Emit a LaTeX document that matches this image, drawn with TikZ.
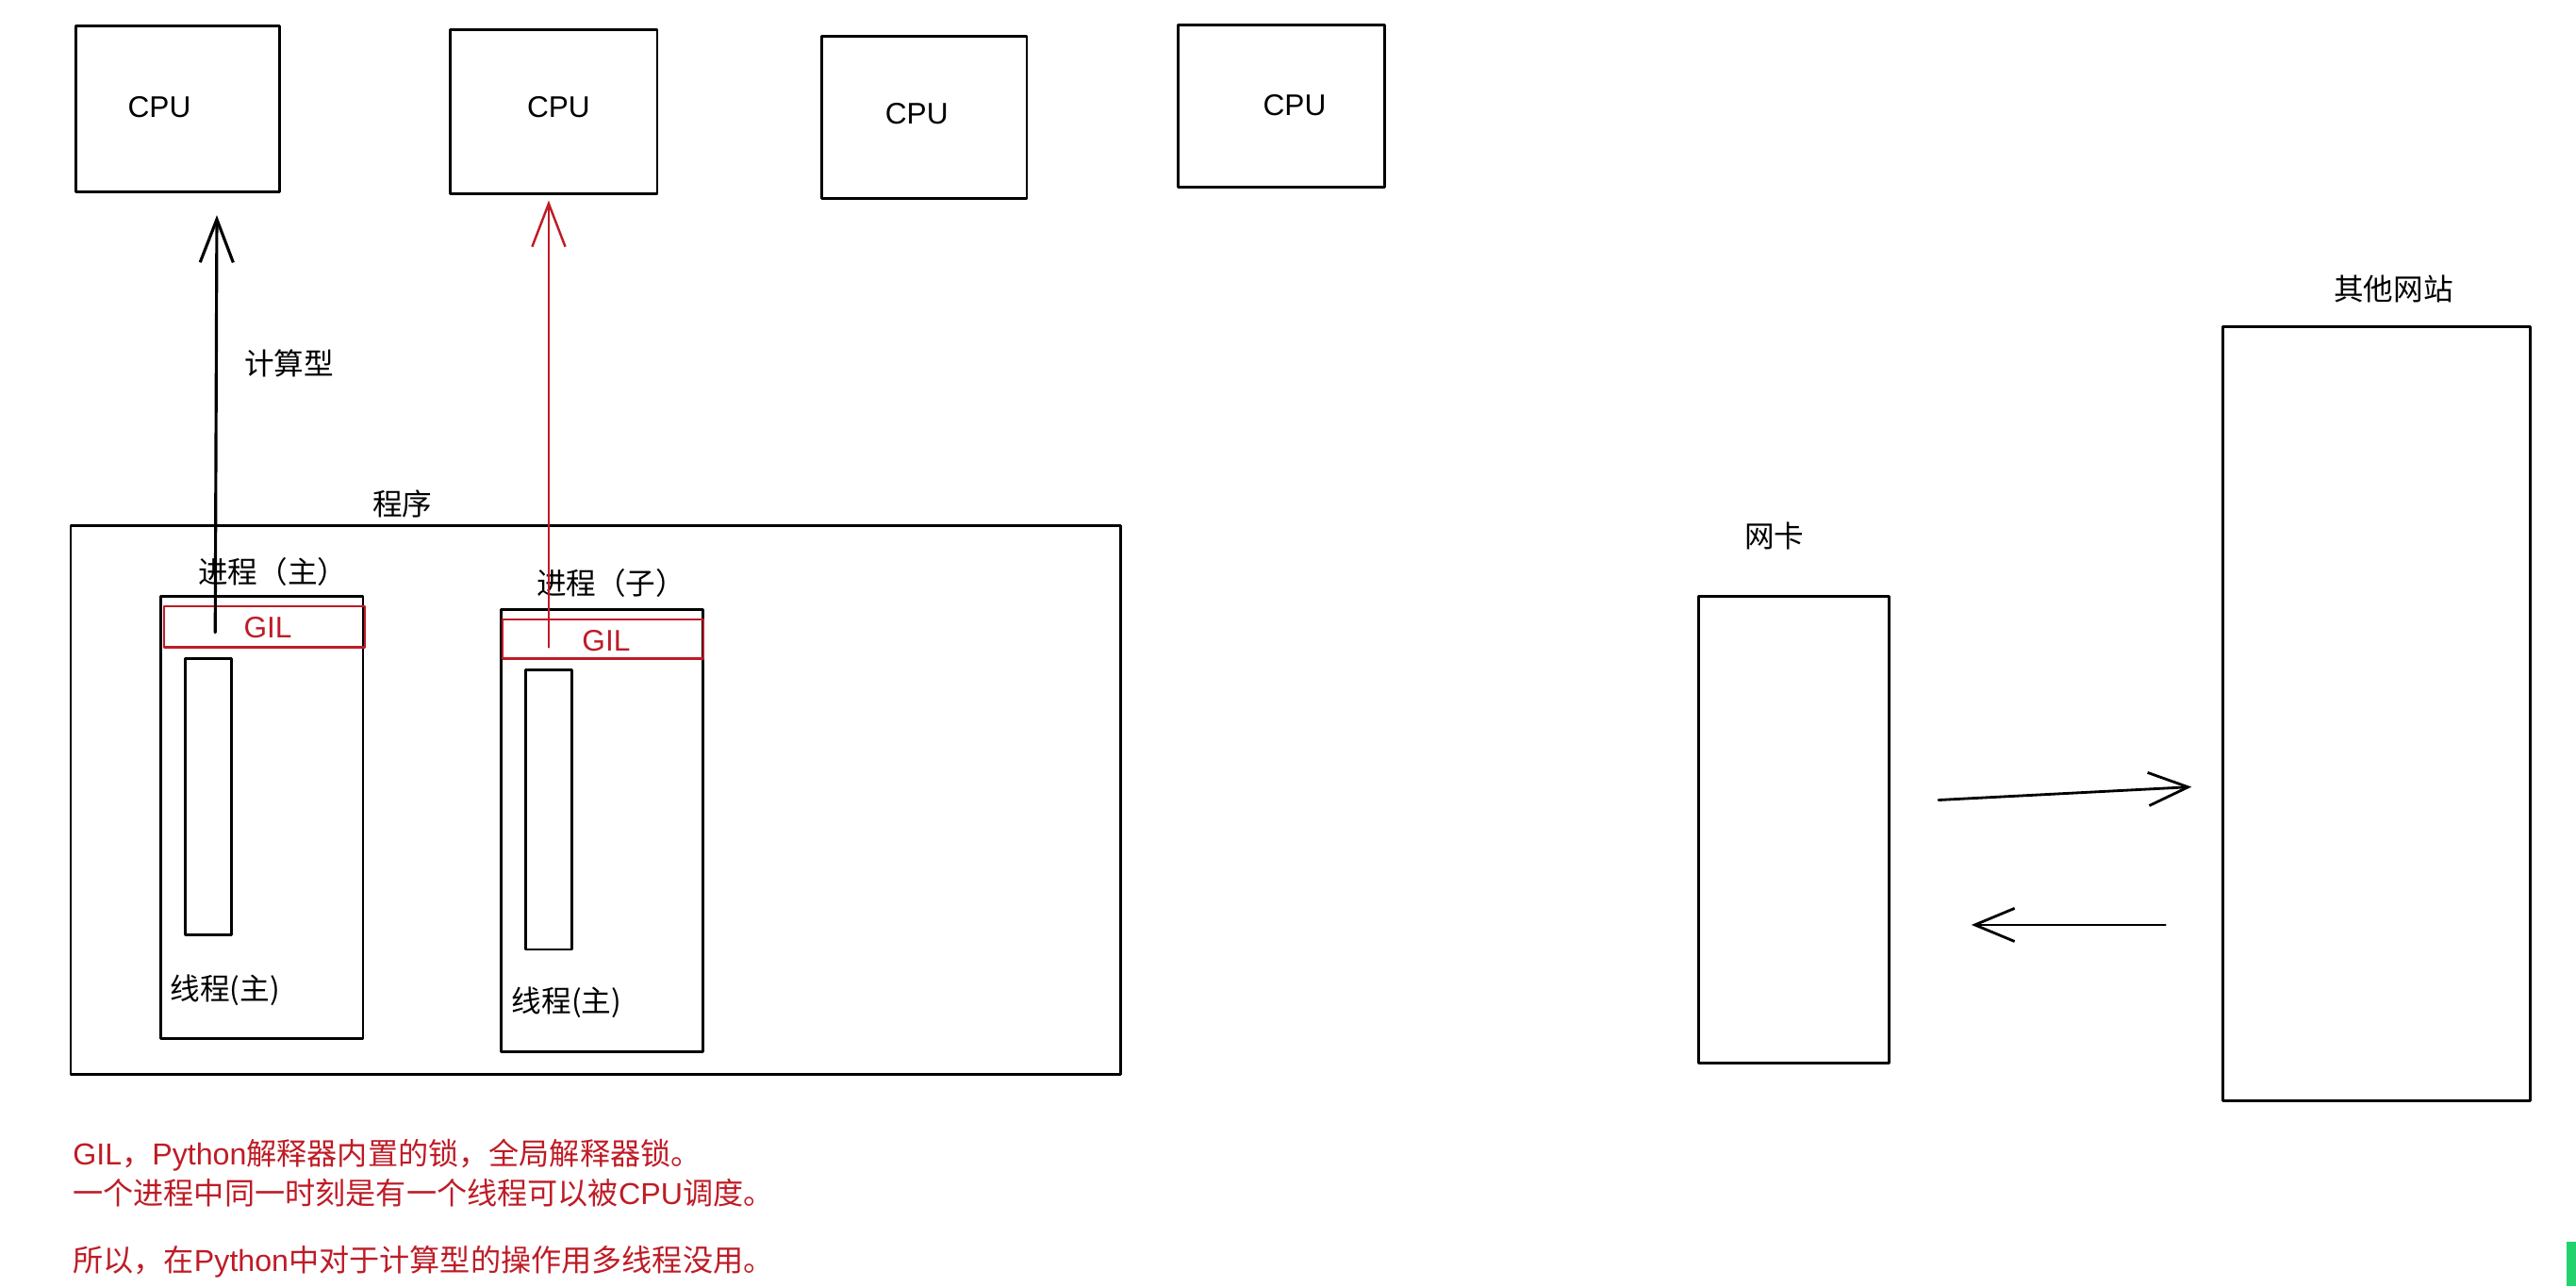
\documentclass[tikz,border=0pt]{standalone}
\usepackage{fontspec}
\setmainfont{Liberation Sans}
\newfontfamily\cjk{Noto Sans CJK SC}
\usetikzlibrary{arrows.meta,fit,positioning}
\definecolor{lockred}{RGB}{190,28,38}
\definecolor{markgreen}{RGB}{34,210,110}
\tikzset{
  every node/.style={font=\fontsize{9}{11}\selectfont},
  box/.style={draw=black, line width=0.8pt, inner sep=0pt},
  gil box/.style={draw=lockred, line width=0.7pt, inner sep=0pt},
  lock text/.style={text=lockred},
  note/.style={text=lockred, anchor=west, inner sep=0pt, font=\fontsize{9.15}{11}\selectfont},
  call/.style={line width=0.9pt, -{Straight Barb[length=13pt, width=10pt]}},
  flow/.style={line width=0.8pt, -{Straight Barb[length=12pt, width=10pt]}}
}

\begin{document}
\begin{tikzpicture}[x=0.017423cm, y=-0.017423cm, line cap=round, line join=round]
  \useasboundingbox (0,0) rectangle (1568,783);

  % cpus
  \node[box, fit={(46,16) (170,117)}] (cpu1) {};
  \node[box, fit={(274,18) (400,118)}] (cpu2) {};
  \node[box, fit={(500,22) (625,121)}] (cpu3) {};
  \node[box, fit={(717,15) (843,114)}] (cpu4) {};
  \node (cpu1txt) at (97,65) {CPU};
  \node (cpu2txt) at (340,65) {CPU};
  \node (cpu3txt) at (558,69) {CPU};
  \node (cpu4txt) at (788,64) {CPU};

  % program with two processes
  \node[box, fit={(43,320) (682,654)}] (prog) {};
  \node (progtxt) at (245,307) {\cjk 程序};

  \node[box, fit={(98,363) (221,632)}] (pmain) {};
  \node[gil box, fit={(100,369) (222,394)}] (gilmain) {};
  \node[lock text] (gilmaintxt) at (163,382) {GIL};
  \node[box, fit={(113,401) (141,569)}] (tmain) {};
  \node (pmaintxt) at (166,348) {\cjk 进程（主）};
  \node (tmaintxt) at (137,603) {\cjk 线程(主)};

  \node[box, fit={(305,371) (428,640)}] (pchild) {};
  \node[gil box, fit={(306,377) (428,401)}] (gilchild) {};
  \node[lock text] (gilchildtxt) at (369,390) {GIL};
  \node[box, fit={(320,408) (348,578)}] (tchild) {};
  \node (pchildtxt) at (372,355) {\cjk 进程（子）};
  \node (tchildtxt) at (345,610) {\cjk 线程(主)};

  % threads asking for a cpu
  \coordinate (s1) at (131,385);
  \coordinate (e1) at (132,131);
  \coordinate (s2) at (334,394);
  \coordinate (e2) at (334,122);
  \draw[call] (s1) -- (e1);
  \draw[call, lockred, line width=0.7pt] (s2) -- (e2);
  \node (calctxt) at (176,221) {\cjk 计算型};

  % network side
  \node[box, fit={(1034,363) (1150,647)}] (nic) {};
  \node (nictxt) at (1080,326) {\cjk 网卡};
  \node[box, fit={(1353,199) (1540,670)}] (site) {};
  \node (sitetxt) at (1457,176) {\cjk 其他网站};
  \coordinate (r1) at (1180,487);
  \coordinate (r2) at (1334,479);
  \coordinate (l1) at (1318,563);
  \coordinate (l2) at (1200,563);
  \draw[flow] (r1) -- (r2);
  \draw[flow] (l1) -- (l2);

  % notes
  \node[note] (note1) at (44,703) {GIL{\cjk ，}Python{\cjk 解释器内置的锁，全局解释器锁。}};
  \node[note] (note2) at (44,726) {{\cjk 一个进程中同一时刻是有一个线程可以被}CPU{\cjk 调度。}};
  \node[note] (note3) at (44,768) {{\cjk 所以，在}Python{\cjk 中对于计算型的操作用多线程没用。}};

  \fill[markgreen] (1562.5,756) rectangle (1568,783);
\end{tikzpicture}
\end{document}
